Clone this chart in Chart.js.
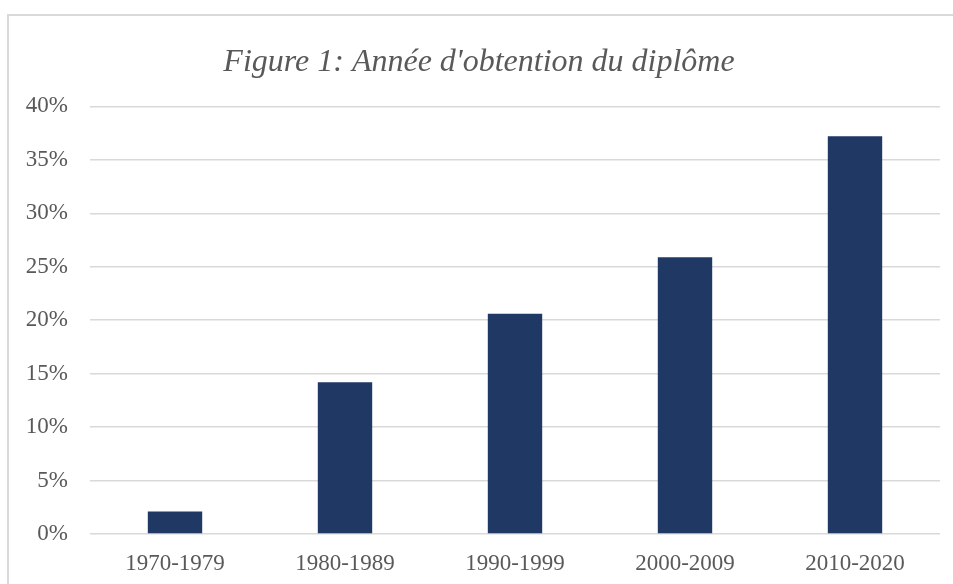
<!DOCTYPE html>
<html>
<head>
<meta charset="utf-8">
<script src="https://cdn.jsdelivr.net/npm/chart.js@4.4.1/dist/chart.umd.min.js"></script>
<style>
  html, body { margin: 0; padding: 0; background: #fff; }
  #wrap { position: relative; width: 953px; height: 584px; }
</style>
</head>
<body>
<div id="wrap"><canvas id="chart"></canvas></div>
<script>
const categories = ['1970-1979', '1980-1989', '1990-1999', '2000-2009', '2010-2020'];
const shares = [2.1, 14.2, 20.6, 25.9, 37.2];
const yTicks = [0, 5, 10, 15, 20, 25, 30, 35, 40];

const textColor = '#595959';
const gridColor = '#d9d9d9';
const serif = "'Liberation Serif', 'Times New Roman', serif";

// light frame around the chart, like the Excel chart border
const frame = {
    id: 'frame',
    beforeDraw(chart) {
        const c = chart.ctx;
        c.save();
        c.strokeStyle = '#d9d9d9';
        c.lineWidth = 2;
        c.strokeRect(8, 15, chart.width + 20, chart.height + 20);
        c.restore();
    }
};

const ctx = document.getElementById('chart').getContext('2d');

new Chart(ctx, {
    type: 'bar',
    data: {
        labels: categories,
        datasets: [{
            data: shares,
            backgroundColor: '#203864',
            barPercentage: 0.32,
            categoryPercentage: 1
        }]
    },
    options: {
        responsive: true,
        maintainAspectRatio: false,
        animation: false,
        layout: { padding: { left: 18, right: 13, top: 0, bottom: 0 } },
        plugins: {
            legend: { display: false },
            tooltip: { enabled: false },
            title: {
                display: true,
                text: "Figure 1: Année d'obtention du diplôme",
                color: textColor,
                font: { family: serif, size: 32, style: 'italic', weight: 'normal' },
                padding: { top: 43, bottom: 25 }
            }
        },
        scales: {
            x: {
                grid: { display: false },
                border: { display: false },
                ticks: {
                    color: textColor,
                    font: { family: serif, size: 23 },
                    padding: 8,
                    maxRotation: 0
                },
                afterFit(scale) { scale.height = 50; }
            },
            y: {
                min: 0,
                max: 40,
                afterBuildTicks(scale) {
                    scale.ticks = yTicks.map(v => ({ value: v }));
                },
                grid: { color: gridColor, lineWidth: 1.5, drawTicks: false },
                border: { display: false },
                ticks: {
                    color: textColor,
                    font: { family: serif, size: 23 },
                    padding: 22,
                    callback: v => v + '%'
                },
                afterFit(scale) { scale.width = 72; }
            }
        }
    },
    plugins: [frame]
});
</script>
</body>
</html>
